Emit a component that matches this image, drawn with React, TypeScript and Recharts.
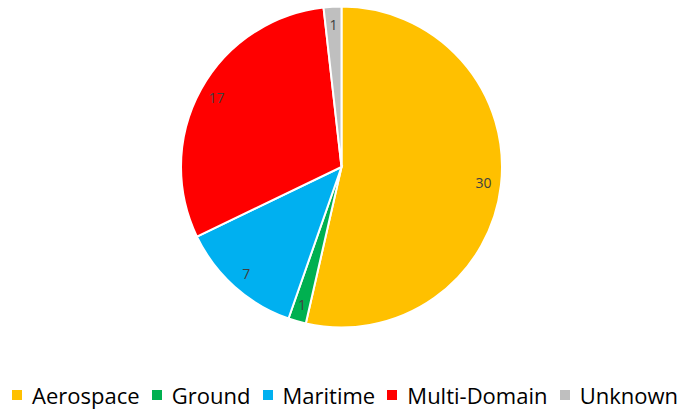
import React from "react";
import { PieChart, Pie, Cell, Legend } from "recharts";

const categories = ["Aerospace", "Ground", "Maritime", "Multi-Domain", "Unknown"];
const counts = [30, 1, 7, 17, 1];
const COLORS = ["#FFC000", "#00B050", "#00B0F0", "#FF0000", "#BFBFBF"];

const data = categories.map((name, i) => ({ name, value: counts[i] }));

const RADIAN = Math.PI / 180;

const renderLabel = (props: any) => {
  const { cx, cy, midAngle, outerRadius, value } = props;
  const r = outerRadius * 0.89;
  const x = cx + r * Math.cos(-midAngle * RADIAN);
  const y = cy + r * Math.sin(-midAngle * RADIAN);
  return (
    <text
      x={x}
      y={y}
      fill="#404040"
      textAnchor="middle"
      dominantBaseline="central"
      fontSize={14}
      fontFamily="'Open Sans', sans-serif"
    >
      {value}
    </text>
  );
};

const renderLegend = (props: any) => {
  const { payload } = props;
  return (
    <div
      style={{
        display: "flex",
        alignItems: "center",
        justifyContent: "space-between",
        paddingLeft: 12,
        paddingRight: 3,
        boxSizing: "border-box",
        width: 681,
        whiteSpace: "nowrap",
      }}
    >
      {(payload || []).map((entry: any, i: number) => (
        <div key={i} style={{ display: "flex", alignItems: "center", flexShrink: 0 }}>
          <div style={{ width: 10, height: 10, background: entry.color, marginRight: 10 }} />
          <span
            style={{
              fontFamily: "'Open Sans', sans-serif",
              fontSize: 22,
              color: "#000",
              lineHeight: "26px",
            }}
          >
            {entry.value}
          </span>
        </div>
      ))}
    </div>
  );
};

export default function App() {
  return (
    <div style={{ position: "absolute", left: 0, top: 0, background: "#fff" }}>
      <PieChart width={681} height={410} margin={{ top: 0, right: 0, bottom: 0, left: 0 }}>
        <Pie
          data={data}
          dataKey="value"
          nameKey="name"
          cx={341.5}
          cy={167}
          outerRadius={160.5}
          startAngle={90}
          endAngle={-270}
          stroke="#fff"
          strokeWidth={2}
          label={renderLabel}
          labelLine={false}
          isAnimationActive={false}
        >
          {data.map((d, i) => (
            <Cell key={d.name} fill={COLORS[i]} />
          ))}
        </Pie>
        <Legend
          verticalAlign="bottom"
          content={renderLegend}
          wrapperStyle={{ left: 0, top: 382, bottom: "auto", width: 681 }}
        />
      </PieChart>
    </div>
  );
}
